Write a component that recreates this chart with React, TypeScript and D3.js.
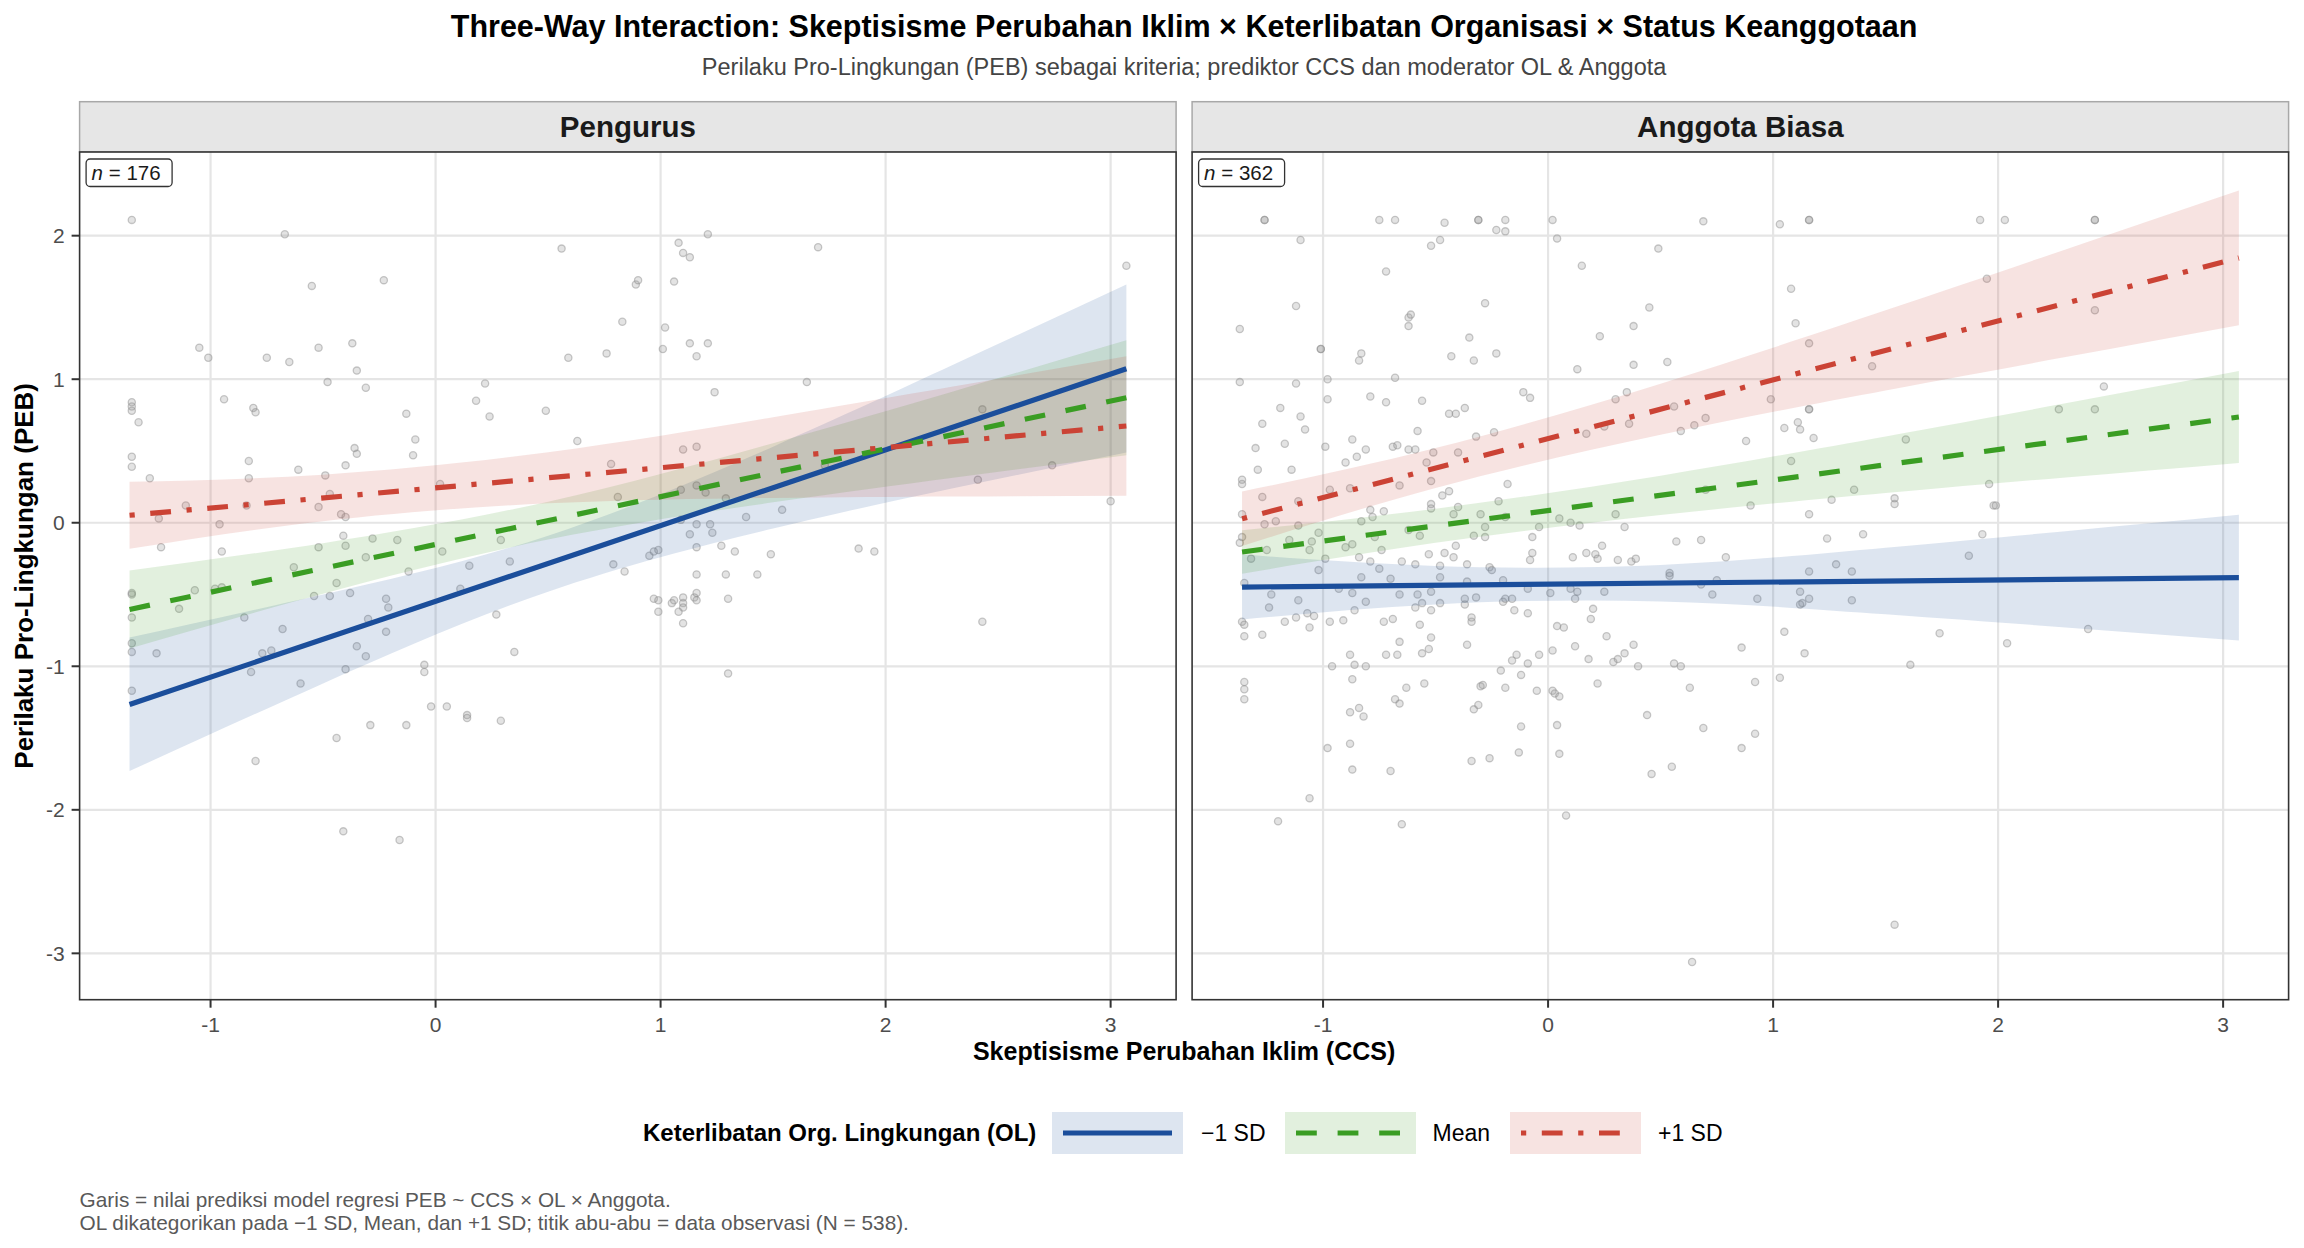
import React from 'react';
import * as d3 from 'd3';

const W = 2304;
const H = 1248;
const FONT = '"Liberation Sans", Arial, Helvetica, sans-serif';

// ---------- data ----------
const panels = ['Pengurus', 'Anggota Biasa'];
const panelN = [176, 362];
const levels = ['\u22121 SD', 'Mean', '+1 SD'];
const levelColors = ['#1B4E9B', '#3A9D23', '#CB4335'];
const xTicks = [-1, 0, 1, 2, 3];
const yTicks = [-3, -2, -1, 0, 1, 2];

// fitted lines (endpoints over CCS range)
const fitX = [-1.36, 3.07];
const pengurusLowFit = [-1.266, 1.073];
const pengurusMeanFit = [-0.604, 0.871];
const pengurusHighFit = [0.052, 0.674];
const anggotaLowFit = [-0.448, -0.383];
const anggotaMeanFit = [-0.204, 0.737];
const anggotaHighFit = [0.028, 1.845];

// confidence bands
const bandX = [-1.36, -0.5, 0.5, 1.5, 2.3, 3.07];
const pengurusLowLo = [-1.73, -1.12, -0.48, -0.04, 0.24, 0.49];
const pengurusLowHi = [-0.8, -0.5, -0.09, 0.53, 1.1, 1.66];
const pengurusMeanLo = [-0.876, -0.494, -0.117, 0.142, 0.313, 0.471];
const pengurusMeanHi = [-0.332, -0.142, 0.147, 0.554, 0.915, 1.271];
const pengurusHighLo = [-0.181, 0.011, 0.135, 0.173, 0.183, 0.188];
const pengurusHighHi = [0.285, 0.335, 0.491, 0.735, 0.949, 1.16];
const anggotaLowLo = [-0.674, -0.569, -0.548, -0.638, -0.729, -0.821];
const anggotaLowHi = [-0.222, -0.301, -0.294, -0.174, -0.059, 0.055];
const anggotaMeanLo = [-0.355, -0.14, 0.054, 0.207, 0.316, 0.417];
const anggotaMeanHi = [-0.053, 0.098, 0.328, 0.601, 0.832, 1.057];
const anggotaHighLo = [-0.162, 0.242, 0.613, 0.922, 1.154, 1.376];
const anggotaHighHi = [0.218, 0.52, 0.969, 1.48, 1.904, 2.314];

// observed points [CCS, PEB]
const pengurusPts: [number, number][] = [
  [-1.35,2.11],[-0.67,2.01],[0.56,1.91],[-0.55,1.65],[-0.23,1.69],[0.83,1.40],[-1.05,1.22],[-1.01,1.15],[-0.75,1.15],[-0.65,1.12],
  [-0.52,1.22],[-0.37,1.25],[-0.35,1.06],[-0.48,0.98],[-0.31,0.94],[0.59,1.15],[0.76,1.18],[0.22,0.97],[0.18,0.85],[0.24,0.74],
  [0.49,0.78],[-1.35,0.84],[-1.35,0.81],[-1.35,0.78],[-1.32,0.70],[-0.94,0.86],[-0.81,0.80],[-0.80,0.77],[-0.13,0.76],[-0.09,0.58],
  [-0.10,0.47],[-0.36,0.52],[-0.35,0.48],[-1.35,0.46],[-1.35,0.39],[-1.27,0.31],[-0.83,0.43],[-0.83,0.31],[-0.61,0.37],[-0.49,0.33],
  [-0.40,0.40],[0.63,0.57],[0.78,0.41],[0.81,0.18],[0.02,0.27],[-1.11,0.12],[-0.84,0.12],[-0.52,0.11],[-0.47,0.20],[-1.23,0.03],
  [-0.96,-0.01],[-0.42,0.06],[-0.40,0.04],[-1.22,-0.17],[-0.95,-0.20],[-0.41,-0.09],[-0.40,-0.16],[-0.28,-0.11],[-0.17,-0.12],[-0.52,-0.17],
  [0.29,-0.12],[0.03,-0.20],[-0.31,-0.24],[-0.63,-0.31],[-0.12,-0.34],[0.15,-0.30],[0.33,-0.27],[0.79,-0.29],[0.84,-0.34],
  [1.21,2.01],[1.08,1.95],[1.10,1.88],[1.13,1.85],[1.70,1.92],[3.07,1.79],[0.89,1.66],[0.90,1.69],[1.06,1.68],[1.02,1.36],
  [1.13,1.25],[1.21,1.25],[1.01,1.21],[1.16,1.16],[1.65,0.98],[1.24,0.91],[2.43,0.79],[1.10,0.51],[1.16,0.53],[1.16,0.26],
  [1.20,0.21],[1.09,0.23],[1.29,0.17],[1.73,0.40],[2.41,0.30],[2.74,0.40],[3.00,0.15],[1.38,0.04],[1.54,0.09],[1.09,0.02],
  [1.16,-0.01],[1.22,-0.01],[1.13,-0.08],[1.23,-0.07],[1.16,-0.17],[1.27,-0.16],[1.33,-0.20],[1.49,-0.22],[1.88,-0.18],[1.95,-0.20],
  [0.95,-0.23],[0.97,-0.20],[0.99,-0.19],[1.16,-0.36],[1.29,-0.36],[1.43,-0.36],
  [-1.35,-0.49],[-1.35,-0.50],[-1.35,-0.66],[-1.35,-0.84],[-1.35,-0.90],[-1.35,-1.17],[-1.24,-0.91],[-1.14,-0.60],[-1.07,-0.47],[-0.98,-0.46],
  [-0.95,-0.45],[-0.85,-0.66],[-0.82,-1.04],[-0.77,-0.91],[-0.73,-0.89],[-0.68,-0.74],[-0.60,-1.12],[-0.54,-0.51],[-0.47,-0.51],[-0.44,-0.42],
  [-0.38,-0.49],[-0.40,-1.02],[-0.35,-0.86],[-0.31,-0.93],[-0.30,-0.67],[-0.22,-0.53],[-0.21,-0.59],[-0.22,-0.76],[-0.05,-0.99],[-0.05,-1.04],
  [-0.02,-1.28],[0.05,-1.28],[0.14,-1.34],[0.14,-1.36],[0.29,-1.38],[-0.29,-1.41],[-0.13,-1.41],[-0.44,-1.50],[-0.80,-1.66],[-0.41,-2.15],
  [-0.16,-2.21],[0.11,-0.46],[0.27,-0.64],[0.35,-0.90],[0.97,-0.53],[0.99,-0.54],[0.99,-0.62],[1.05,-0.56],[1.06,-0.54],[1.10,-0.52],
  [1.10,-0.56],[1.10,-0.59],[1.08,-0.62],[1.10,-0.70],[1.15,-0.52],[1.16,-0.49],[1.16,-0.54],[1.30,-0.53],[1.30,-1.05],[2.43,-0.69],
];

const anggotaPts: [number, number][] = [
  [-1.26,2.11],[-1.26,2.11],[-0.75,2.11],[-0.68,2.11],[-0.46,2.09],[-0.31,2.11],[-0.31,2.11],[-0.19,2.11],[-0.23,2.04],[-0.19,2.03],
  [0.02,2.11],[0.69,2.10],[-1.10,1.97],[-0.52,1.93],[-0.48,1.97],[0.04,1.98],[0.49,1.91],[-0.72,1.75],[0.15,1.79],[-0.28,1.53],
  [-1.12,1.51],[-1.37,1.35],[-0.62,1.43],[-0.61,1.45],[-0.62,1.37],[0.45,1.50],[0.38,1.37],[0.23,1.30],[-0.35,1.29],[-1.01,1.21],
  [-1.01,1.21],[-0.83,1.18],[-0.84,1.13],[-0.43,1.16],[-0.33,1.13],[-0.23,1.18],[0.38,1.10],[0.53,1.12],[0.13,1.07],[-1.37,0.98],
  [-1.12,0.97],[-0.98,1.00],[-0.98,0.86],[-0.68,1.01],[-0.79,0.88],[-0.72,0.84],[-0.56,0.85],[-0.11,0.91],[-0.08,0.87],[0.35,0.91],
  [0.30,0.86],[-1.19,0.80],[-1.10,0.74],[-1.08,0.65],[-1.27,0.69],[-0.44,0.76],[-0.41,0.76],[-0.37,0.80],[-0.58,0.64],[-0.32,0.60],
  [-0.24,0.63],[0.56,0.81],[0.70,0.73],[0.59,0.64],[0.65,0.68],[0.36,0.69],[0.25,0.67],[0.17,0.62],[-1.30,0.52],[-1.17,0.55],
  [-0.99,0.53],[-0.87,0.58],[-0.81,0.51],[-0.69,0.53],[-0.67,0.54],[-0.62,0.51],[-0.59,0.51],[-0.51,0.49],[-0.40,0.49],[-0.90,0.42],
  [-0.85,0.46],[-1.29,0.37],[-1.14,0.37],[-0.54,0.42],[-0.52,0.29],[-0.18,0.27],[-1.36,0.30],[-1.36,0.27],[-1.27,0.18],[-1.11,0.15],
  [-0.97,0.23],[-0.88,0.24],[-0.66,0.26],[-0.47,0.19],[-0.44,0.22],[-0.40,0.11],[-0.52,0.13],[-0.52,0.10],[-0.22,0.15],[-0.79,0.09],
  [-0.78,0.04],[-0.73,0.08],[-0.83,0.01],[-1.36,0.06],[-1.26,-0.01],[-1.21,0.01],[-1.11,-0.02],[-1.02,-0.07],[-0.42,0.06],[-0.30,0.06],
  [-0.19,0.04],[0.05,0.03],[0.30,0.06],[0.70,0.23],[-0.28,-0.03],[-0.04,-0.03],[0.10,0.00],[0.14,-0.02],[0.34,-0.03],[-0.62,-0.05],
  [-0.57,-0.09],[-0.77,-0.10],[-1.36,-0.10],[-1.37,-0.14],[-1.15,-0.12],[-1.05,-0.13],[-1.25,-0.19],[-1.06,-0.19],[-0.90,-0.17],[-0.87,-0.15],
  [-0.74,-0.19],[-0.33,-0.09],[-0.28,-0.10],[-0.07,-0.10],[-0.41,-0.16],[0.24,-0.16],[0.57,-0.13],[0.68,-0.12],[-1.32,-0.25],[-0.99,-0.25],
  [-0.84,-0.24],[-0.79,-0.27],[-0.65,-0.27],[-0.59,-0.29],[-0.53,-0.22],[-0.46,-0.21],[-0.42,-0.24],[-0.36,-0.29],[-0.07,-0.21],[-0.08,-0.26],
  [0.11,-0.24],[0.17,-0.21],[0.21,-0.22],[0.22,-0.25],[0.31,-0.26],[0.37,-0.27],[0.39,-0.25],[0.79,-0.24],[-1.02,-0.33],[-0.75,-0.32],
  [-0.48,-0.30],[-0.26,-0.31],[-0.25,-0.33],[0.54,-0.35],
  [1.03,2.08],[1.16,2.11],[1.16,2.11],[1.92,2.11],[2.03,2.11],[2.43,2.11],[2.43,2.11],[1.08,1.63],[1.10,1.39],[1.16,1.25],
  [1.95,1.70],[2.43,1.48],[1.44,1.09],[0.99,0.86],[1.16,0.79],[1.16,0.79],[1.11,0.70],[1.12,0.65],[1.18,0.59],[1.05,0.66],
  [0.88,0.57],[2.47,0.95],[2.27,0.79],[2.43,0.79],[1.59,0.58],[1.08,0.43],[0.90,0.12],[1.16,0.06],[1.26,0.16],[1.36,0.23],
  [1.54,0.17],[1.54,0.13],[1.96,0.27],[1.98,0.12],[1.99,0.12],[1.24,-0.11],[1.40,-0.08],[1.93,-0.08],[1.87,-0.23],[1.28,-0.29],
  [1.35,-0.34],[1.16,-0.34],
  [-1.35,-0.42],[-1.23,-0.50],[-1.24,-0.59],[-1.11,-0.54],[-1.07,-0.63],[-1.04,-0.65],[-1.12,-0.66],[-1.17,-0.69],[-1.06,-0.73],[-1.36,-0.69],
  [-1.35,-0.71],[-1.35,-0.79],[-1.27,-0.78],[-0.97,-0.69],[-0.91,-0.68],[-0.93,-0.46],[-0.87,-0.49],[-0.86,-0.61],[-0.83,-0.38],[-0.70,-0.39],
  [-0.81,-0.55],[-0.66,-0.50],[-0.58,-0.50],[-0.56,-0.56],[-0.59,-0.59],[-0.52,-0.61],[-0.52,-0.48],[-0.48,-0.56],[-0.48,-0.38],[-0.73,-0.69],
  [-0.69,-0.67],[-0.57,-0.71],[-0.37,-0.53],[-0.37,-0.57],[-0.32,-0.52],[-0.36,-0.41],[-0.34,-0.66],[-0.34,-0.69],[-0.20,-0.40],[-0.20,-0.55],
  [-0.19,-0.53],[-0.16,-0.53],[-0.15,-0.61],[-0.09,-0.63],[-0.09,-0.46],[0.01,-0.49],[0.10,-0.46],[0.13,-0.48],[0.12,-0.53],[0.25,-0.48],
  [0.20,-0.60],[0.19,-0.67],[0.04,-0.72],[0.07,-0.73],[0.26,-0.79],[0.73,-0.50],[0.68,-0.43],[0.75,-0.40],[0.54,-0.37],[-0.66,-0.83],
  [-0.52,-0.80],[-0.56,-0.91],[-0.53,-0.88],[-0.72,-0.92],[-0.67,-0.92],[-0.88,-0.92],[-0.36,-0.85],[-0.96,-1.00],[-0.86,-0.99],[-0.81,-1.00],
  [-0.87,-1.09],[-1.35,-1.11],[-1.35,-1.16],[-1.35,-1.23],[-0.63,-1.15],[-0.55,-1.12],[-0.68,-1.23],[-0.66,-1.26],[-0.88,-1.32],[-0.84,-1.29],
  [-0.82,-1.35],[-0.30,-1.14],[-0.29,-1.13],[-0.33,-1.30],[-0.31,-1.27],[-0.21,-1.03],[-0.19,-1.15],[-0.16,-0.96],[-0.14,-0.92],[-0.12,-1.06],
  [-0.09,-0.98],[-0.04,-0.92],[-0.05,-1.17],[0.02,-0.89],[0.02,-1.17],[0.03,-1.19],[0.05,-1.21],[0.12,-0.86],[0.18,-0.95],[0.22,-1.12],
  [0.29,-0.97],[0.31,-0.95],[0.34,-0.91],[0.38,-0.85],[0.40,-1.00],[0.56,-0.98],[0.59,-1.00],[0.63,-1.15],[0.86,-0.87],[-0.12,-1.42],
  [0.04,-1.41],[0.44,-1.34],[0.69,-1.43],[-0.98,-1.57],[-0.88,-1.54],[-0.87,-1.72],[-0.70,-1.73],[-0.34,-1.66],[-0.26,-1.64],[-0.13,-1.60],
  [0.05,-1.61],[0.46,-1.75],[0.55,-1.70],[0.86,-1.57],[-1.06,-1.92],[-1.20,-2.08],[-0.65,-2.10],[0.08,-2.04],[0.64,-3.06],
  [0.93,-0.53],[1.12,-0.48],[1.16,-0.53],[1.13,-0.56],[1.12,-0.57],[1.35,-0.54],[1.05,-0.76],[1.14,-0.91],[1.74,-0.77],[2.04,-0.84],
  [2.40,-0.74],[1.61,-0.99],[0.92,-1.11],[1.03,-1.08],[0.92,-1.47],[1.54,-2.80],
];

// ---------- layout ----------
const panelLeft = [79.6, 1192.1];
const panelW = 1096.5;
const panelTop = 152;
const panelBottom = 999.7;
const stripTop = 101.7;
const LW = 5.2;
const dashFor = (i: number) => (i === 0 ? undefined : i === 1 ? `${4 * LW} ${4 * LW}` : `${LW} ${3 * LW} ${4 * LW} ${3 * LW}`);

const y = d3.scaleLinear().domain([-3.323, 2.583]).range([panelBottom, panelTop]);

const fits = [
  [pengurusLowFit, pengurusMeanFit, pengurusHighFit],
  [anggotaLowFit, anggotaMeanFit, anggotaHighFit],
];
const bandsLo = [
  [pengurusLowLo, pengurusMeanLo, pengurusHighLo],
  [anggotaLowLo, anggotaMeanLo, anggotaHighLo],
];
const bandsHi = [
  [pengurusLowHi, pengurusMeanHi, pengurusHighHi],
  [anggotaLowHi, anggotaMeanHi, anggotaHighHi],
];
const pts = [pengurusPts, anggotaPts];

function Panel({ p }: { p: number }) {
  const left = panelLeft[p];
  const x = d3.scaleLinear().domain([-1.582, 3.291]).range([left, left + panelW]);
  const bandPath = (lv: number) =>
    d3
      .area<number>()
      .x((d) => x(d))
      .y0((_, i) => y(bandsLo[p][lv][i]))
      .y1((_, i) => y(bandsHi[p][lv][i]))
      .curve(d3.curveNatural)(bandX) as string;
  const linePath = (lv: number) =>
    d3
      .line<number>()
      .x((d) => x(d))
      .y((_, i) => y(fits[p][lv][i]))(fitX) as string;
  return (
    <g>
      {/* strip */}
      <rect x={left} y={stripTop} width={panelW} height={panelTop - stripTop} fill="#e6e6e6" stroke="#a8a8a8" strokeWidth={1.5} />
      <text x={left + panelW / 2} y={136.5} textAnchor="middle" fontFamily={FONT} fontWeight="bold" fontSize={29.5} fill="#1a1a1a">
        {panels[p]}
      </text>
      {/* panel */}
      <rect x={left} y={panelTop} width={panelW} height={panelBottom - panelTop} fill="#ffffff" />
      {yTicks.map((t) => (
        <line key={'gy' + t} x1={left} x2={left + panelW} y1={y(t)} y2={y(t)} stroke="#e5e5e5" strokeWidth={2.2} />
      ))}
      {xTicks.map((t) => (
        <line key={'gx' + t} x1={x(t)} x2={x(t)} y1={panelTop} y2={panelBottom} stroke="#e5e5e5" strokeWidth={2.2} />
      ))}
      {pts[p].map((d, i) => (
        <circle key={'pt' + i} cx={x(d[0])} cy={y(d[1])} r={3.6} fill="#9a9a9a" fillOpacity={0.28} stroke="#8a8a8a" strokeOpacity={0.45} strokeWidth={1.3} />
      ))}
      {[0, 1, 2].map((lv) => (
        <path key={'b' + lv} d={bandPath(lv)} fill={levelColors[lv]} fillOpacity={0.15} />
      ))}
      {[0, 1, 2].map((lv) => (
        <path key={'l' + lv} d={linePath(lv)} fill="none" stroke={levelColors[lv]} strokeWidth={LW} strokeDasharray={dashFor(lv)} />
      ))}
      <rect x={left} y={panelTop} width={panelW} height={panelBottom - panelTop} fill="none" stroke="#333333" strokeWidth={1.6} />
      {/* n label */}
      <rect x={left + 6.5} y={159} width={86} height={27.5} rx={4} fill="#ffffff" stroke="#333333" strokeWidth={1.3} />
      <text x={left + 12} y={179.5} fontFamily={FONT} fontSize={20.5} fill="#1a1a1a">
        <tspan fontStyle="italic">n</tspan>
        <tspan> = {panelN[p]}</tspan>
      </text>
      {/* x axis */}
      {xTicks.map((t) => (
        <g key={'xt' + t}>
          <line x1={x(t)} x2={x(t)} y1={panelBottom} y2={panelBottom + 8} stroke="#333333" strokeWidth={2} />
          <text x={x(t)} y={1031.5} textAnchor="middle" fontFamily={FONT} fontSize={21} fill="#4d4d4d">
            {t}
          </text>
        </g>
      ))}
      {p === 0 &&
        yTicks.map((t) => (
          <g key={'yt' + t}>
            <line x1={left - 8} x2={left} y1={y(t)} y2={y(t)} stroke="#333333" strokeWidth={2} />
            <text x={left - 15} y={y(t) + 7.5} textAnchor="end" fontFamily={FONT} fontSize={21} fill="#4d4d4d">
              {t}
            </text>
          </g>
        ))}
    </g>
  );
}

const legendKeyX = [1052, 1285, 1510];
const legendLabelX = [1201, 1432.5, 1658];

export default function App() {
  const centerX = (panelLeft[0] + panelLeft[1] + panelW) / 2;
  return (
    <svg width={W} height={H} style={{ position: 'absolute', left: 0, top: 0, background: '#ffffff' }}>
      <rect x={0} y={0} width={W} height={H} fill="#ffffff" />
      <text x={centerX} y={37} textAnchor="middle" fontFamily={FONT} fontWeight="bold" fontSize={30.5} fill="#000000">
        Three-Way Interaction: Skeptisisme Perubahan Iklim × Keterlibatan Organisasi × Status Keanggotaan
      </text>
      <text x={centerX} y={74.5} textAnchor="middle" fontFamily={FONT} fontSize={23.5} fill="#444444">
        Perilaku Pro-Lingkungan (PEB) sebagai kriteria; prediktor CCS dan moderator OL &amp; Anggota
      </text>
      <Panel p={0} />
      <Panel p={1} />
      <text x={centerX} y={1060} textAnchor="middle" fontFamily={FONT} fontWeight="bold" fontSize={25} fill="#000000">
        Skeptisisme Perubahan Iklim (CCS)
      </text>
      <text
        transform={`translate(33, ${(panelTop + panelBottom) / 2}) rotate(-90)`}
        textAnchor="middle"
        fontFamily={FONT}
        fontWeight="bold"
        fontSize={26}
        fill="#000000"
      >
        Perilaku Pro-Lingkungan (PEB)
      </text>
      {/* legend */}
      <text x={643} y={1141} fontFamily={FONT} fontWeight="bold" fontSize={24} fill="#000000">
        Keterlibatan Org. Lingkungan (OL)
      </text>
      {levels.map((lv, i) => (
        <g key={'lg' + i}>
          <rect x={legendKeyX[i]} y={1112} width={131} height={42} fill={levelColors[i]} fillOpacity={0.15} />
          <line
            x1={legendKeyX[i] + 11}
            x2={legendKeyX[i] + 120}
            y1={1133}
            y2={1133}
            stroke={levelColors[i]}
            strokeWidth={LW}
            strokeDasharray={dashFor(i)}
          />
          <text x={legendLabelX[i]} y={1141} fontFamily={FONT} fontSize={23} fill="#000000">
            {lv}
          </text>
        </g>
      ))}
      {/* caption */}
      <text x={79.6} y={1206.5} fontFamily={FONT} fontSize={20.8} fill="#595959">
        Garis = nilai prediksi model regresi PEB ~ CCS × OL × Anggota.
      </text>
      <text x={79.6} y={1229.5} fontFamily={FONT} fontSize={20.8} fill="#595959">
        OL dikategorikan pada {'\u2212'}1 SD, Mean, dan +1 SD; titik abu-abu = data observasi (N = 538).
      </text>
    </svg>
  );
}
